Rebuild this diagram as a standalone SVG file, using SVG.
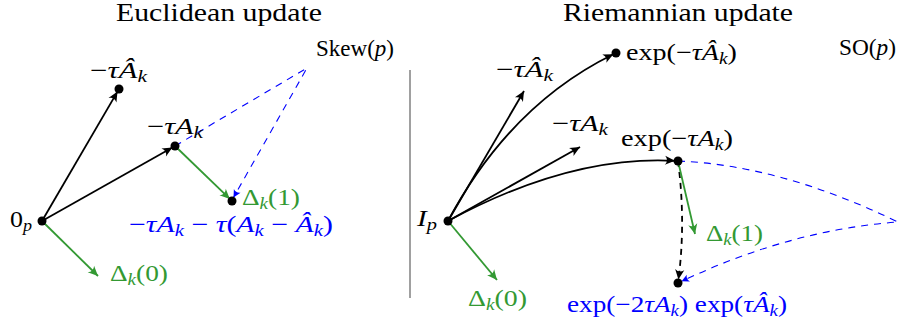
<svg xmlns="http://www.w3.org/2000/svg" width="899" height="329" viewBox="0 0 899 329">
<style>
text{font-family:"Liberation Serif","Times New Roman",serif;font-size:23px;fill:#000}
.title{font-size:25px}
.i{font-style:italic}
.s{font-style:italic;font-size:16px}
.g{fill:#339933}
.b{fill:#0000ff}
.blk{fill:none;stroke:#000;stroke-width:1.8}
.grn{fill:none;stroke:#339933;stroke-width:1.8}
.bd{fill:none;stroke:#0000ff;stroke-width:1.1;stroke-dasharray:7 6}
.kd{fill:none;stroke:#000;stroke-width:1.8;stroke-dasharray:6 5}
.dot{fill:#000}
</style>
<defs>
<marker id="ak" markerUnits="userSpaceOnUse" markerWidth="14" markerHeight="14" viewBox="-12 -7 14 14" refX="0" refY="0" orient="auto"><path d="M0,0 L-10,-4.6 Q-6,0 -10,4.6 Z" fill="#000"/></marker>
<marker id="ag" markerUnits="userSpaceOnUse" markerWidth="14" markerHeight="14" viewBox="-12 -7 14 14" refX="0" refY="0" orient="auto"><path d="M0,0 L-10,-4.6 Q-6,0 -10,4.6 Z" fill="#339933"/></marker>
<marker id="ab" markerUnits="userSpaceOnUse" markerWidth="12" markerHeight="12" viewBox="-10 -6 12 12" refX="0" refY="0" orient="auto"><path d="M0,0 L-7.5,-3.8 Q-4.8,0 -7.5,3.8 Z" fill="#0000ff"/></marker>
</defs>

<g id="titles">
<text class="title" x="116" y="21" textLength="206" lengthAdjust="spacingAndGlyphs">Euclidean update</text>
<text class="title" x="563" y="21" textLength="230" lengthAdjust="spacingAndGlyphs">Riemannian update</text>
</g>

<line id="divider" x1="410" y1="70" x2="410" y2="298" stroke="#808080" stroke-width="1.5"/>

<g id="connectors">
<path class="blk" d="M42,221 L117.5,91.6" marker-end="url(#ak)"/>
<path class="blk" d="M42,221 L172.4,147.5" marker-end="url(#ak)"/>
<path class="grn" d="M175,146 L229.8,198.9" marker-end="url(#ag)"/>
<path class="grn" d="M42,221 L98,276" marker-end="url(#ag)"/>
<path class="bd" d="M175,146 L307,68 L233.5,197.4" marker-end="url(#ab)"/>

<path class="blk" d="M448,221 L524,91" marker-end="url(#ak)"/>
<path class="blk" d="M448,221 Q510,105 613.3,54.3" marker-end="url(#ak)"/>
<path class="blk" d="M448,221 L580,147" marker-end="url(#ak)"/>
<path class="blk" d="M448,221 Q570,155 675,160.8" marker-end="url(#ak)"/>
<path class="bd" d="M678,161 Q780,165 898,222 Q790,230 681.6,281.3" marker-end="url(#ab)"/>
<path class="kd" d="M678,161 Q686,222 678.4,279.5" marker-end="url(#ak)"/>
<path class="grn" d="M678,161 L695,234" marker-end="url(#ag)"/>
<path class="grn" d="M448,221 L497,280" marker-end="url(#ag)"/>
</g>

<g id="n-0p"><circle class="dot" cx="42" cy="221" r="4.5"/>
<text x="10" y="227" textLength="22" lengthAdjust="spacingAndGlyphs">0<tspan class="s" dy="4">p</tspan></text></g>

<g id="n-left-Ahat"><circle class="dot" cx="119" cy="89" r="4.5"/>
<text x="90" y="78" textLength="57" lengthAdjust="spacingAndGlyphs">−<tspan class="i">τÂ</tspan><tspan class="s" dy="4">k</tspan></text></g>

<g id="n-left-A"><circle class="dot" cx="175" cy="146" r="4.5"/>
<text x="147" y="134" textLength="56" lengthAdjust="spacingAndGlyphs">−<tspan class="i">τA</tspan><tspan class="s" dy="4">k</tspan></text></g>

<g id="n-left-d1"><circle class="dot" cx="232" cy="201" r="4.5"/>
<text class="g" x="242" y="205" textLength="58" lengthAdjust="spacingAndGlyphs">Δ<tspan class="s" dy="4">k</tspan><tspan dy="-4">(1)</tspan></text>
<text class="b" x="129" y="232" textLength="204" lengthAdjust="spacingAndGlyphs">−<tspan class="i">τA</tspan><tspan class="s" dy="4">k</tspan><tspan dy="-4"> − </tspan><tspan class="i">τ</tspan>(<tspan class="i">A</tspan><tspan class="s" dy="4">k</tspan><tspan dy="-4"> − </tspan><tspan class="i">Â</tspan><tspan class="s" dy="4">k</tspan><tspan dy="-4">)</tspan></text></g>

<g id="n-left-d0">
<text class="g" x="110" y="281" textLength="58" lengthAdjust="spacingAndGlyphs">Δ<tspan class="s" dy="4">k</tspan><tspan dy="-4">(0)</tspan></text></g>

<g id="n-skew">
<text x="316" y="56" textLength="78" lengthAdjust="spacingAndGlyphs">Skew(<tspan class="i">p</tspan>)</text></g>

<g id="n-Ip"><circle class="dot" cx="448" cy="221" r="4.5"/>
<text x="417" y="226" textLength="20" lengthAdjust="spacingAndGlyphs"><tspan class="i">I</tspan><tspan class="s" dy="4">p</tspan></text></g>

<g id="n-right-tAhat">
<text x="496" y="77" textLength="57" lengthAdjust="spacingAndGlyphs">−<tspan class="i">τÂ</tspan><tspan class="s" dy="4">k</tspan></text></g>

<g id="n-expAhat"><circle class="dot" cx="616" cy="53" r="4.5"/>
<text x="626" y="60" textLength="111" lengthAdjust="spacingAndGlyphs">exp(−<tspan class="i">τÂ</tspan><tspan class="s" dy="4">k</tspan><tspan dy="-4">)</tspan></text></g>

<g id="n-so">
<text x="839" y="55" textLength="57" lengthAdjust="spacingAndGlyphs">SO(<tspan class="i">p</tspan>)</text></g>

<g id="n-right-tA">
<text x="552" y="131" textLength="56" lengthAdjust="spacingAndGlyphs">−<tspan class="i">τA</tspan><tspan class="s" dy="4">k</tspan></text></g>

<g id="n-expA"><circle class="dot" cx="678" cy="161" r="4.5"/>
<text x="621" y="146" textLength="112" lengthAdjust="spacingAndGlyphs">exp(−<tspan class="i">τA</tspan><tspan class="s" dy="4">k</tspan><tspan dy="-4">)</tspan></text></g>

<g id="n-right-d1">
<text class="g" x="706" y="241" textLength="57" lengthAdjust="spacingAndGlyphs">Δ<tspan class="s" dy="4">k</tspan><tspan dy="-4">(1)</tspan></text></g>

<g id="n-right-d0">
<text class="g" x="468" y="306" textLength="59" lengthAdjust="spacingAndGlyphs">Δ<tspan class="s" dy="4">k</tspan><tspan dy="-4">(0)</tspan></text></g>

<g id="n-result"><circle class="dot" cx="678" cy="283" r="4.5"/>
<text class="b" x="567" y="312" textLength="220" lengthAdjust="spacingAndGlyphs">exp(−2<tspan class="i">τA</tspan><tspan class="s" dy="4">k</tspan><tspan dy="-4">) exp(</tspan><tspan class="i">τÂ</tspan><tspan class="s" dy="4">k</tspan><tspan dy="-4">)</tspan></text></g>
</svg>
